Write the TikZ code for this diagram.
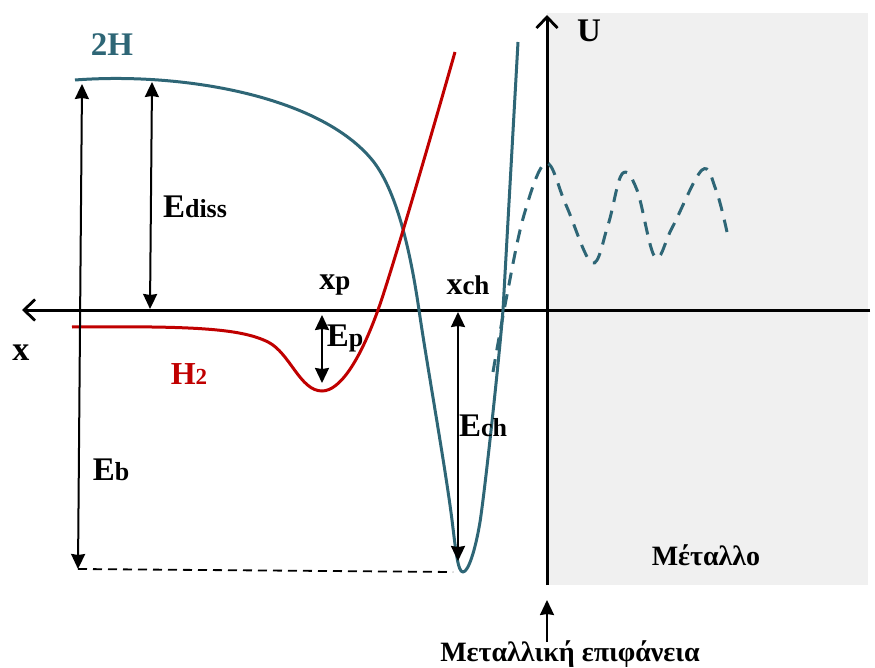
\documentclass[tikz,border=0pt]{standalone}
\usepackage{fontspec}
\setmainfont{Liberation Serif}
\usetikzlibrary{arrows.meta}
\definecolor{tealc}{RGB}{46,102,118}
\definecolor{hred}{RGB}{192,0,0}
\definecolor{metal}{RGB}{240,240,240}
\newcommand{\EnLbl}[1]{{\fontsize{33}{33}\selectfont E}{\fontsize{26}{26}\selectfont #1}}
\begin{document}
\begin{tikzpicture}[x=1pt,y=-1pt,font=\bfseries,
  axisline/.style={line width=3pt,-{Straight Barb[length=11pt,width=21pt,line width=2.8pt]}},
  dimarrow/.style={line width=2pt,{Stealth[length=15pt,width=14pt,inset=1pt]}-{Stealth[length=15pt,width=14pt,inset=1pt]}},
  uparrow/.style={line width=2pt,-{Stealth[length=15pt,width=14pt,inset=1pt]}},
  tealcurve/.style={tealc,line width=3pt},
  redcurve/.style={hred,line width=3pt},
  lbl/.style={inner sep=0pt,text=black}]
\useasboundingbox (0,0) rectangle (875,668);
% metal region
\fill[metal] (547,13) rectangle (868,585);
% coordinates
\coordinate (xr) at (870,310);
\coordinate (xl) at (22,310);
\coordinate (ub) at (547,585);
\coordinate (ut) at (547,15);
% axes
\draw[axisline] (xr) -- (xl);
\draw[axisline] (ub) -- (ut);
% 2H curve
\draw[tealcurve,line join=round] (75,80) .. controls (180,72) and (320,95) .. (373,161)
  .. controls (399,194) and (412,262) .. (419,310)
  .. controls (427,365) and (445,465) .. (452,520)
  .. controls (456,553) and (458,572) .. (463,572)
  .. controls (468,572) and (475,552) .. (480,522)
  .. controls (485,490) and (499,360) .. (503,310)
  -- (518,42);
% dashed continuation
\draw[tealcurve,dash pattern=on 13pt off 9pt] plot[smooth,tension=0.6] coordinates {(493,372) (506,300) (524,215) (546,163) (566,205) (592,263) (608,225) (622,174) (637,190) (655,257) (672,228) (702,170) (716,190) (727,232)};
% H2 curve
\draw[redcurve] (72,327) .. controls (190,326) and (240,328) .. (268,342)
  .. controls (290,353) and (300,391) .. (322,391)
  .. controls (340,391) and (360,360) .. (378,310)
  .. controls (390,277) and (430,140) .. (455,52);
% energy arrows
\coordinate (ebT) at (82,84);
\coordinate (ebB) at (78,569);
\coordinate (edT) at (152,82);
\coordinate (edB) at (150,309);
\coordinate (epT) at (322,315);
\coordinate (epB) at (322,383);
\coordinate (echT) at (458,312);
\coordinate (echB) at (458,561);
\coordinate (dashL) at (78,569);
\coordinate (dashR) at (453,572);
\draw[dimarrow] (ebT) -- (ebB);
\draw[dimarrow] (edT) -- (edB);
\draw[dimarrow] (epT) -- (epB);
\draw[dimarrow] (echT) -- (echB);
\draw[line width=1.8pt,dash pattern=on 9pt off 6pt] (dashL) -- (dashR);
% surface arrow
\coordinate (sB) at (547,642);
\coordinate (sT) at (547,600);
\draw[uparrow] (sB) -- (sT);
% labels
\node[lbl,text=tealc,font=\bfseries\fontsize{33}{33}\selectfont] (l2h) at (112,45) {2H};
\node[lbl,font=\bfseries\fontsize{33}{33}\selectfont] (lU) at (589,31) {U};
\node[lbl,font=\bfseries\fontsize{34}{34}\selectfont] (lx) at (21,353) {x};
\node[lbl,text=hred] (lh2) at (189,374) {{\fontsize{32}{32}\selectfont H}{\fontsize{23}{23}\selectfont 2}};
\node[lbl] (led) at (195,207) {\EnLbl{diss}};
\node[lbl] (lep) at (345,338) {\EnLbl{p}};
\node[lbl] (lech) at (483,426) {\EnLbl{ch}};
\node[lbl] (leb) at (111,470) {\EnLbl{b}};
\node[lbl] (lxp) at (335,285) {{\fontsize{32}{32}\selectfont x}{\fontsize{27}{27}\selectfont p}};
\node[lbl] (lxch) at (468,285) {{\fontsize{32}{32}\selectfont x}{\fontsize{27}{27}\selectfont ch}};
\node[lbl,font=\bfseries\fontsize{28}{28}\selectfont] (lmet) at (706,555) {Μέταλλο};
\node[lbl,font=\bfseries\fontsize{28}{28}\selectfont] (lsurf) at (570,654) {Μεταλλική επιφάνεια};
\end{tikzpicture}
\end{document}
